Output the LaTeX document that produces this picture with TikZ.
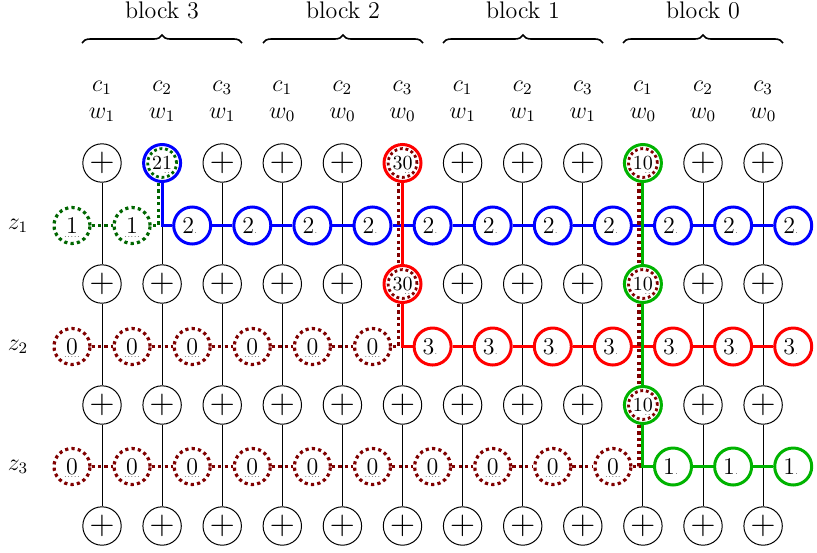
\documentclass[tikz,border=0pt]{standalone}
\usepackage{amsmath}
\usetikzlibrary{decorations.pathreplacing}
\definecolor{dred}{RGB}{128,0,0}
\definecolor{dgreen}{RGB}{0,102,0}
\definecolor{mgreen}{RGB}{0,179,0}
\definecolor{mblue}{RGB}{0,0,255}
\definecolor{mred}{RGB}{255,0,0}
\newsavebox\nbx
\newcommand{\ulnum}[1]{\sbox\nbx{#1}\rlap{\usebox\nbx}\makebox[\wd\nbx]{\raisebox{-1.8pt}[0pt][0pt]{\fontsize{4}{4}\selectfont.....}}}
\newcommand{\twonum}[1]{#1\llap{\raisebox{-1.8pt}[0pt][0pt]{\fontsize{4}{4}\selectfont..}\hspace{1pt}}}
\newcommand{\dotnum}[1]{#1\makebox[4pt][l]{\fontsize{4}{4}\selectfont.}}
\tikzset{
  plusn/.style={circle, draw=black, line width=0.5pt, minimum size=19.2pt, inner sep=0pt, fill=white, font=\LARGE},
  zsol/.style={circle, draw=#1, line width=1.5pt, minimum size=18.5pt, inner sep=0pt, fill=white, font=\large},
  zdot/.style={circle, draw=#1, line width=1.6pt, dash pattern=on 1.6pt off 1.6pt, minimum size=18pt, inner sep=0pt, fill=white, font=\large},
  spec/.style={circle, draw=#1, line width=1.5pt, minimum size=18.5pt, inner sep=0pt, fill=white},
  solline/.style={draw=#1, line width=1.5pt},
  dotline/.style={draw=#1, line width=1.6pt, dash pattern=on 1.6pt off 1.6pt},
  ringline/.style={draw=#1, line width=1.4pt, dash pattern=on 1.4pt off 1.4pt},
  colline/.style={draw=black, line width=0.5pt},
  hdr/.style={anchor=base, font=\large},
  blk/.style={anchor=base, font=\large},
  brc/.style={decorate, decoration={brace, amplitude=4pt}, line width=0.8pt},
}
\begin{document}
\begin{tikzpicture}[x=0.5pt,y=-0.5pt]
\useasboundingbox (0,0) rectangle (817,552);
% header
\node[blk] (blk3) at (162,18.5) {block 3};
\node[blk] (blk2) at (343,18.5) {block 2};
\node[blk] (blk1) at (523,18.5) {block 1};
\node[blk] (blk0) at (703,18.5) {block 0};
\foreach \a/\b in {82/242, 263/423, 443/603, 623/783}
  \draw[brc] (\a,43) -- (\b,43);
\foreach \j/\c/\w in {0/1/1,1/2/1,2/3/1,3/1/0,4/2/0,5/3/0,6/1/1,7/2/1,8/3/1,9/1/0,10/2/0,11/3/0} {
  \pgfmathsetmacro\xx{102+60.1*\j}
  \node[hdr] (c-\j) at (\xx,91) {$c_{\c}$};
  \node[hdr] (w-\j) at (\xx,118) {$w_{\w}$};
}
% row labels
\node[font=\large] (lz1) at (18,226) {$z_1$};
\node[font=\large] (lz2) at (18,347) {$z_2$};
\node[font=\large] (lz3) at (18,467) {$z_3$};
% plus nodes
\foreach \i/\yy in {1/163,2/284,3/405,4/526} {
  \foreach \j in {0,...,11} {
    \pgfmathsetmacro\xx{102+60.1*\j}
    \ifnum\i=1
      \ifnum\j=1 \node[spec=mblue] (p\i-\j) at (\xx,\yy) {\twonum{21}};
      \else\ifnum\j=5 \node[spec=mred] (p\i-\j) at (\xx,\yy) {\twonum{30}};
      \else\ifnum\j=9 \node[spec=mgreen] (p\i-\j) at (\xx,\yy) {\twonum{10}};
      \else \node[plusn] (p\i-\j) at (\xx,\yy) {$+$};
      \fi\fi\fi
    \else\ifnum\i=2
      \ifnum\j=5 \node[spec=mred] (p\i-\j) at (\xx,\yy) {\twonum{30}};
      \else\ifnum\j=9 \node[spec=mgreen] (p\i-\j) at (\xx,\yy) {\twonum{10}};
      \else \node[plusn] (p\i-\j) at (\xx,\yy) {$+$};
      \fi\fi
    \else\ifnum\i=3
      \ifnum\j=9 \node[spec=mgreen] (p\i-\j) at (\xx,\yy) {\twonum{10}};
      \else \node[plusn] (p\i-\j) at (\xx,\yy) {$+$};
      \fi
    \else
      \node[plusn] (p\i-\j) at (\xx,\yy) {$+$};
    \fi\fi\fi
  }
}
% inner dotted rings
\draw[ringline=dgreen] (p1-1.center) circle (7.2pt);
\draw[ringline=dred] (p1-5.center) circle (7.2pt);
\draw[ringline=dred] (p2-5.center) circle (7.2pt);
\draw[ringline=dred] (p1-9.center) circle (7.2pt);
\draw[ringline=dred] (p2-9.center) circle (7.2pt);
\draw[ringline=dred] (p3-9.center) circle (7.2pt);
% z nodes
\foreach \k in {0,...,12} {
  \pgfmathsetmacro\xx{72+60.1*\k}
  \ifnum\k<2 \node[zdot=dgreen] (z1-\k) at (\xx,225.5) {\ulnum{1}};
  \else \node[zsol=mblue] (z1-\k) at (\xx,225.5) {\dotnum{2}};
  \fi
  \ifnum\k<6 \node[zdot=dred] (z2-\k) at (\xx,346.5) {\ulnum{0}};
  \else \node[zsol=mred] (z2-\k) at (\xx,346.5) {\dotnum{3}};
  \fi
  \ifnum\k<10 \node[zdot=dred] (z3-\k) at (\xx,466.5) {\ulnum{0}};
  \else \node[zsol=mgreen] (z3-\k) at (\xx,466.5) {\dotnum{1}};
  \fi
}
% column lines
\foreach \j in {0,...,11} {
  \draw[colline] (p1-\j) -- (p2-\j);
  \draw[colline] (p2-\j) -- (p3-\j);
  \draw[colline] (p3-\j) -- (p4-\j);
}
% horizontal chains
\draw[dotline=dgreen] (z1-0) -- (z1-1);
\foreach \k [evaluate=\k as \kk using int(\k+1)] in {2,...,11}
  \draw[solline=mblue] (z1-\k) -- (z1-\kk);
\foreach \k [evaluate=\k as \kk using int(\k+1)] in {0,...,4}
  \draw[dotline=dred] (z2-\k) -- (z2-\kk);
\foreach \k [evaluate=\k as \kk using int(\k+1)] in {6,...,11}
  \draw[solline=mred] (z2-\k) -- (z2-\kk);
\foreach \k [evaluate=\k as \kk using int(\k+1)] in {0,...,8}
  \draw[dotline=dred] (z3-\k) -- (z3-\kk);
\foreach \k [evaluate=\k as \kk using int(\k+1)] in {10,11}
  \draw[solline=mgreen] (z3-\k) -- (z3-\kk);
% column 1 (block 3, c2)
\draw[dotline=dgreen] ([xshift=-2pt]p1-1.south) |- (z1-1);
\draw[solline=mblue] (p1-1) |- (z1-2);
% column 5 (block 2, c3)
\draw[dotline=dred] ([xshift=-2pt]p1-5.south) -- ([xshift=-2pt]p2-5.north);
\draw[dotline=dred] ([xshift=-2pt]p2-5.south) |- (z2-5);
\draw[solline=mred] (p1-5) -- (p2-5);
\draw[solline=mred] (p2-5) |- (z2-6);
% column 9 (block 0, c1)
\draw[dotline=dred] ([xshift=-2pt]p1-9.south) -- ([xshift=-2pt]p2-9.north);
\draw[dotline=dred] ([xshift=-2pt]p2-9.south) -- ([xshift=-2pt]p3-9.north);
\draw[dotline=dred] ([xshift=-2pt]p3-9.south) |- (z3-9);
\draw[solline=mgreen] (p1-9) -- (p2-9);
\draw[solline=mgreen] (p2-9) -- (p3-9);
\draw[solline=mgreen] (p3-9) |- (z3-10);
\end{tikzpicture}
\end{document}
